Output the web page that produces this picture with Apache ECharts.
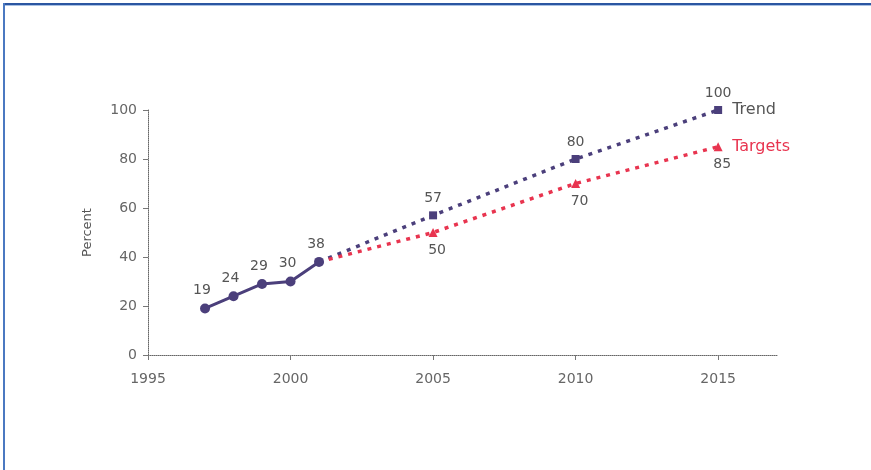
<!DOCTYPE html>
<html>
<head>
<meta charset="utf-8">
<script src="https://cdn.jsdelivr.net/npm/echarts@6/dist/echarts.min.js"></script>
<style>
html,body{margin:0;padding:0;background:#fff;}
#chart{width:871px;height:470px;}
</style>
</head>
<body>
<div id="chart"></div>
<script>
// Data
var actualYears = [1997, 1998, 1999, 2000, 2001];
var actualValues = [19, 24, 29, 30, 38];
var projYears = [2001, 2005, 2010, 2015];
var trendValues = [38, 57, 80, 100];
var targetValues = [38, 50, 70, 85];
var xTicks = [1995, 2000, 2005, 2010, 2015];
var yTicks = [0, 20, 40, 60, 80, 100];
var trendName = 'Trend';
var targetName = 'Targets';
var yAxisName = 'Percent';

var purple = '#4b3f7b';
var red = '#e8344f';
var font = 'DejaVu Sans';

function pairs(xs, ys) {
  return xs.map(function (x, i) { return [x, ys[i]]; });
}
function projData(xs, ys) {
  return xs.map(function (x, i) {
    var d = { value: [x, ys[i]] };
    if (i === 0) { d.symbol = 'none'; d.label = { show: false }; }
    return d;
  });
}

var chart = echarts.init(document.getElementById('chart'));
chart.setOption({
  backgroundColor: '#fff',
  animation: false,
  graphic: [
    { type: 'rect', shape: { x: 3, y: 3, width: 868, height: 2 }, style: { fill: '#2b56a2' } },
    { type: 'rect', shape: { x: 3, y: 5, width: 868, height: 1 }, style: { fill: '#a9c1e3' } },
    { type: 'rect', shape: { x: 3, y: 3, width: 2, height: 467 }, style: { fill: '#4b79c1' } }
  ],
  grid: { left: 148, top: 110, right: 93, bottom: 115, containLabel: false },
  xAxis: {
    type: 'value',
    min: 1995,
    max: 2017.1,
    interval: 5,
    splitLine: { show: false },
    axisLine: { lineStyle: { color: '#666', type: 'dotted', width: 1 } },
    axisTick: { show: true, length: 5, customValues: xTicks, lineStyle: { color: '#777' } },
    axisLabel: {
      customValues: xTicks,
      margin: 17, color: '#666', fontFamily: font, fontSize: 14,
      formatter: function (v) { return String(v); }
    }
  },
  yAxis: {
    type: 'value',
    min: 0,
    max: 100,
    interval: 20,
    name: yAxisName,
    nameLocation: 'middle',
    nameGap: 54,
    nameTextStyle: { color: '#555', fontFamily: font, fontSize: 13 },
    splitLine: { show: false },
    axisLine: { show: true, lineStyle: { color: '#666', type: 'dotted', width: 1 } },
    axisTick: { show: true, length: 5, lineStyle: { color: '#777' } },
    axisLabel: {
      customValues: yTicks,
      margin: 11, color: '#666', fontFamily: font, fontSize: 14
    }
  },
  series: [
    {
      name: trendName,
      type: 'line',
      data: projData(projYears, trendValues),
      symbol: 'rect',
      symbolSize: 8,
      itemStyle: { color: purple },
      lineStyle: { color: purple, width: 3.5, type: [4, 6] },
      label: { show: true, position: 'top', distance: 6, color: '#555', fontFamily: font, fontSize: 14 },
      endLabel: { show: true, formatter: function () { return trendName; }, color: '#555', fontFamily: font, fontSize: 16, distance: 14 },
      z: 2
    },
    {
      name: targetName,
      type: 'line',
      data: projData(projYears, targetValues),
      symbol: 'triangle',
      symbolSize: 9,
      itemStyle: { color: red },
      lineStyle: { color: red, width: 3.5, type: [4, 6] },
      label: { show: true, position: 'bottom', distance: 6, offset: [4, 0], color: '#555', fontFamily: font, fontSize: 14 },
      endLabel: { show: true, formatter: function () { return targetName; }, color: red, fontFamily: font, fontSize: 16, distance: 14 },
      z: 2
    },
    {
      name: 'Actual',
      type: 'line',
      data: pairs(actualYears, actualValues),
      symbol: 'circle',
      symbolSize: 10,
      itemStyle: { color: purple },
      lineStyle: { color: purple, width: 3 },
      label: { show: true, position: 'top', distance: 6, offset: [-3, 0], color: '#555', fontFamily: font, fontSize: 14 },
      z: 3
    }
  ]
});
</script>
</body>
</html>
